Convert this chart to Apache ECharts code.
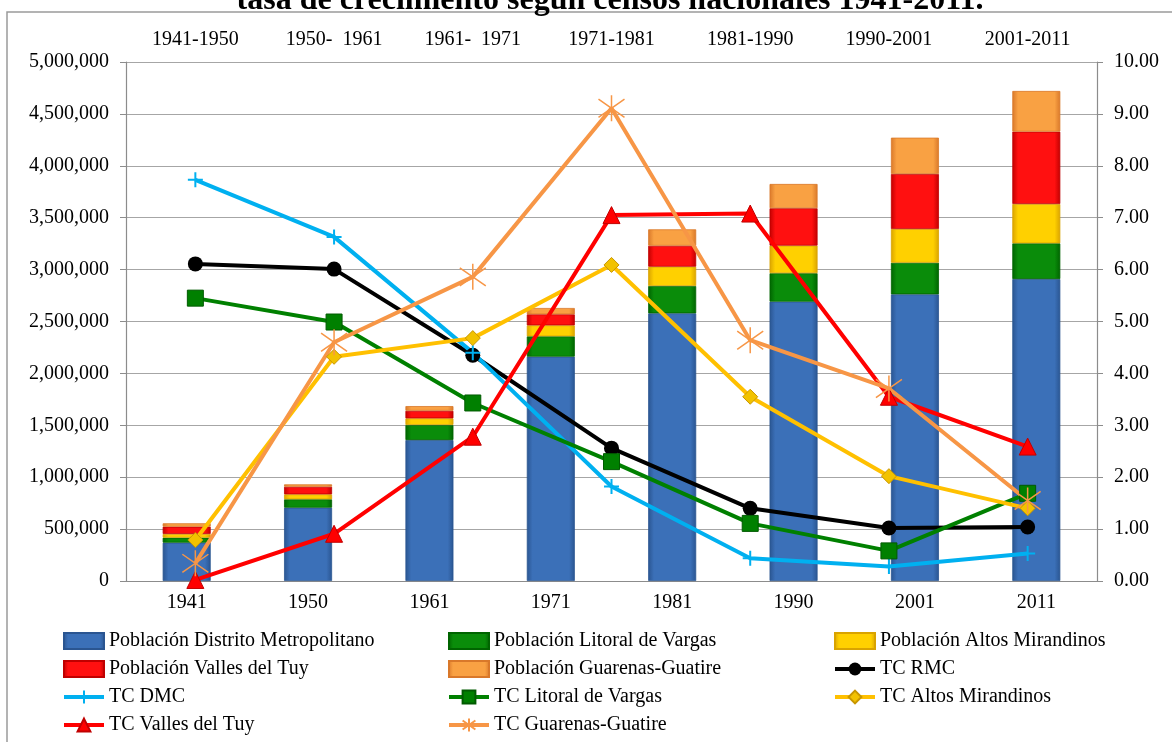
<!DOCTYPE html>
<html>
<head>
<meta charset="utf-8">
<script src="https://cdn.jsdelivr.net/npm/echarts@6/dist/echarts.min.js"></script>
<style>
html,body{margin:0;padding:0;background:#fff;}
#chart{width:1172px;height:742px;}
</style>
</head>
<body>
<div id="chart"></div>
<script>
const years = ['1941','1950','1961','1971','1981','1990','2001','2011'];
const periods = ['1941-1950','1950-  1961','1961-  1971','1971-1981','1981-1990','1990-2001','2001-2011'];

const popDM = [369000, 706000, 1358000, 2161000, 2579000, 2691000, 2762000, 2909000];
const popLitoral = [48000, 81000, 145000, 196000, 263000, 274000, 304000, 344000];
const popAltos = [36000, 48000, 64000, 106000, 186000, 266000, 325000, 379000];
const popValles = [70000, 73000, 73000, 106000, 202000, 360000, 530000, 697000];
const popGuarenas = [33000, 23000, 45000, 61000, 158000, 234000, 350000, 392000];

const tcRMC = [6.11, 6.01, 4.35, 2.56, 1.40, 1.02, 1.04];
const tcDMC = [7.73, 6.63, 4.40, 1.82, 0.44, 0.28, 0.53];
const tcLitoral = [5.45, 4.99, 3.43, 2.30, 1.11, 0.58, 1.69];
const tcAltos = [0.79, 4.32, 4.68, 6.09, 3.55, 2.02, 1.40];
const tcValles = [0.02, 0.91, 2.78, 7.05, 7.08, 3.55, 2.59];
const tcGuarenas = [0.34, 4.60, 5.86, 9.11, 4.64, 3.71, 1.55];

const titleText = 'tasa de crecimiento según censos nacionales 1941-2011.';

const FONT = '"Liberation Serif", "DejaVu Serif", serif';
const chart = echarts.init(document.getElementById('chart'));

function barGrad(edge, base) {
  return new echarts.graphic.LinearGradient(0, 0, 1, 0, [
    {offset: 0, color: edge},
    {offset: 0.12, color: base},
    {offset: 0.88, color: base},
    {offset: 1, color: edge}
  ]);
}

function barSeries(name, data, edge, base) {
  return {
    name: name, type: 'bar', stack: 'pop', data: data,
    xAxisIndex: 0, yAxisIndex: 0, barWidth: 48,
    itemStyle: {color: barGrad(edge, base), borderColor: edge, borderWidth: 0.8},
    emphasis: {disabled: true}
  };
}

function lineSeries(name, data, color, symbol, size, extra) {
  return {
    name: name, type: 'line', data: data,
    xAxisIndex: 1, yAxisIndex: 1,
    symbol: symbol, symbolSize: size,
    lineStyle: {color: color, width: 4},
    itemStyle: Object.assign({color: color}, extra || {}),
    z: 5,
    emphasis: {disabled: true}
  };
}

const axisGray = '#8c8c8c';
const labelStyle = {color: '#000', fontSize: 20, fontFamily: FONT};
const legendText = {color: '#000', fontSize: 20, fontFamily: FONT, lineHeight: 20};

const legendBase = {
  orient: 'vertical', top: 631, height: 112, padding: 0, itemGap: 8, itemWidth: 40, itemHeight: 16,
  textStyle: legendText, selectedMode: false
};

function barItem(n) { return {name: n, icon: 'rect', itemHeight: 11}; }
function lineItem(n) { return {name: n, lineStyle: {width: 4}}; }

const option = {
  backgroundColor: '#fff',
  animation: false,
  graphic: [
    {type: 'rect', shape: {x: 7, y: 12, width: 1250, height: 800},
     style: {fill: 'none', stroke: '#9a9a9a', lineWidth: 1.5}, z: -10},
    {type: 'text', x: 610, y: 1,
     style: {text: titleText, textAlign: 'center', verticalAlign: 'middle',
             font: 'bold 32px "Liberation Serif"', fill: '#000'}}
  ],
  grid: {left: 126, right: 75, top: 62, bottom: 161, containLabel: false},
  legend: [
    Object.assign({}, legendBase, {left: 62,
      data: [barItem('Población Distrito Metropolitano'), barItem('Población Valles del Tuy'), lineItem('TC DMC'), lineItem('TC Valles del Tuy')]}),
    Object.assign({}, legendBase, {left: 447,
      data: [barItem('Población Litoral de Vargas'), barItem('Población Guarenas-Guatire'), lineItem('TC Litoral de Vargas'), lineItem('TC Guarenas-Guatire')]}),
    Object.assign({}, legendBase, {left: 833,
      data: [barItem('Población Altos Mirandinos'), lineItem('TC RMC'), lineItem('TC Altos Mirandinos')]})
  ],
  xAxis: [
    {type: 'category', data: years, position: 'bottom', boundaryGap: true,
     axisLine: {lineStyle: {color: axisGray, width: 1.2}},
     axisTick: {length: 6, lineStyle: {color: axisGray}},
     axisLabel: Object.assign({margin: 12}, labelStyle)},
    {type: 'category', data: periods, position: 'top', boundaryGap: true,
     axisLine: {lineStyle: {color: axisGray, width: 1.2}},
     axisTick: {length: 6, lineStyle: {color: axisGray}},
     axisLabel: Object.assign({margin: 12}, labelStyle)}
  ],
  yAxis: [
    {type: 'value', min: 0, max: 5000000, interval: 500000, position: 'left',
     axisLine: {show: true, lineStyle: {color: axisGray, width: 1.2}},
     axisTick: {show: true, length: 6, lineStyle: {color: axisGray}},
     axisLabel: Object.assign({margin: 17, formatter: v => v.toLocaleString('en-US')}, labelStyle),
     splitLine: {show: true, lineStyle: {color: '#a6a6a6', width: 1.2}}},
    {type: 'value', min: 0, max: 10, interval: 1, position: 'right',
     axisLine: {show: true, lineStyle: {color: axisGray, width: 1.2}},
     axisTick: {show: true, length: 6, lineStyle: {color: axisGray}},
     axisLabel: Object.assign({margin: 17, formatter: v => v.toFixed(2)}, labelStyle),
     splitLine: {show: false}}
  ],
  series: [
    barSeries('Población Distrito Metropolitano', popDM, '#2a5591', '#3b70b8'),
    barSeries('Población Litoral de Vargas', popLitoral, '#006400', '#0a8c0a'),
    barSeries('Población Altos Mirandinos', popAltos, '#d9a300', '#ffd000'),
    barSeries('Población Valles del Tuy', popValles, '#c00000', '#ff1010'),
    barSeries('Población Guarenas-Guatire', popGuarenas, '#d9782a', '#f9a143'),
    lineSeries('TC RMC', tcRMC, '#000000', 'circle', 15),
    lineSeries('TC DMC', tcDMC, '#00b0f0', 'path://M0,-8L0,8M-8,0L8,0', 15,
      {borderColor: '#00b0f0', borderWidth: 2}),
    lineSeries('TC Litoral de Vargas', tcLitoral, '#008000', 'rect', 16,
      {borderColor: '#005a00', borderWidth: 1}),
    lineSeries('TC Altos Mirandinos', tcAltos, '#ffc000', 'diamond', 15,
      {color: '#f2c200', borderColor: '#c89600', borderWidth: 1}),
    lineSeries('TC Valles del Tuy', tcValles, '#ff0000', 'triangle', 17,
      {borderColor: '#c00000', borderWidth: 1}),
    lineSeries('TC Guarenas-Guatire', tcGuarenas, '#f79646',
      'path://M0,-10L0,10M-9,-7L9,7M-9,7L9,-7', 26,
      {borderColor: '#f79646', borderWidth: 1.5})
  ]
};
chart.setOption(option);
</script>
</body>
</html>
